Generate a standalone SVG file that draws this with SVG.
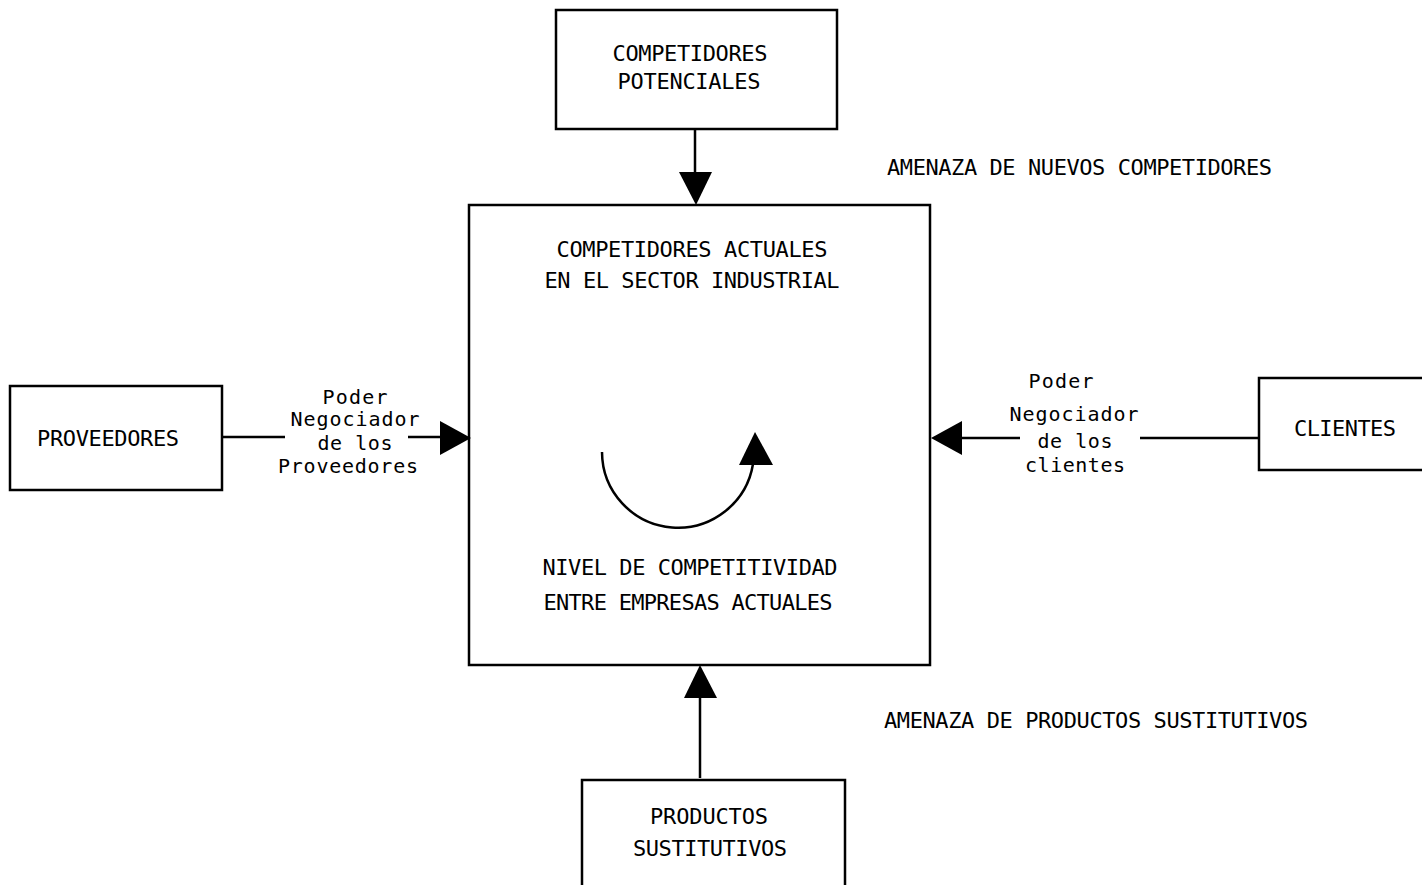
<svg xmlns="http://www.w3.org/2000/svg" width="1422" height="885" viewBox="0 0 1422 885">
<style>
.box{fill:#fff;stroke:#000;stroke-width:2.5}
.ln{fill:none;stroke:#000;stroke-width:2.5}
.hd{fill:#000;stroke:none}
text{font-family:"DejaVu Sans Mono","Liberation Mono",monospace;font-size:22px;fill:#000}
.c{text-anchor:middle}
.s{font-size:20px}
</style>
<rect width="1422" height="885" fill="#fff"/>
<g id="competidores-potenciales">
<rect class="box" x="556" y="10" width="281" height="119"/>
<text x="690" y="61" class="c" textLength="155">COMPETIDORES</text>
<text x="689" y="89" class="c" textLength="143">POTENCIALES</text>
</g>
<g id="amenaza-nuevos">
<text x="887" y="175" textLength="385">AMENAZA DE NUEVOS COMPETIDORES</text>
</g>
<g id="competidores-actuales">
<rect class="box" x="469" y="205" width="461" height="460"/>
<text x="692" y="257" class="c" textLength="271">COMPETIDORES ACTUALES</text>
<text x="692" y="288" class="c" textLength="295">EN EL SECTOR INDUSTRIAL</text>
<text x="690" y="575" class="c" textLength="295">NIVEL DE COMPETITIVIDAD</text>
<text x="688" y="610" class="c" textLength="289">ENTRE EMPRESAS ACTUALES</text>
</g>
<g id="proveedores">
<rect class="box" x="10" y="386" width="212" height="104"/>
<text x="108" y="446" class="c" textLength="142">PROVEEDORES</text>
</g>
<g id="label-proveedores">
<text x="355" y="404" class="c s" textLength="65">Poder</text>
<text x="355" y="426" class="c s" textLength="129">Negociador</text>
<text x="355" y="450" class="c s" textLength="75">de los</text>
<text x="348" y="473" class="c s" textLength="140">Proveedores</text>
</g>
<g id="clientes">
<rect class="box" x="1259" y="378" width="175" height="92"/>
<text x="1345" y="436" class="c" textLength="102">CLIENTES</text>
</g>
<g id="label-clientes">
<text x="1061" y="388" class="c s" textLength="65">Poder</text>
<text x="1074" y="421" class="c s" textLength="129">Negociador</text>
<text x="1075" y="448" class="c s" textLength="75">de los</text>
<text x="1075" y="472" class="c s" textLength="100">clientes</text>
</g>
<g id="amenaza-sustitutos">
<text x="884" y="728" textLength="424">AMENAZA DE PRODUCTOS SUSTITUTIVOS</text>
</g>
<g id="productos-sustitutivos">
<rect class="box" x="582" y="780" width="263" height="115"/>
<text x="709" y="824" class="c" textLength="118">PRODUCTOS</text>
<text x="710" y="856" class="c" textLength="154">SUSTITUTIVOS</text>
</g>
<g id="connectors">
<line class="ln" x1="695" y1="129" x2="695" y2="180"/>
<polygon class="hd" points="679,172 712,172 696,205"/>
<line class="ln" x1="222" y1="437" x2="285" y2="437"/>
<line class="ln" x1="408" y1="437" x2="445" y2="437"/>
<polygon class="hd" points="440,421 440,455 471,438"/>
<line class="ln" x1="1140" y1="438" x2="1259" y2="438"/>
<line class="ln" x1="955" y1="438" x2="1020" y2="438"/>
<polygon class="hd" points="962,421 962,455 931,438"/>
<line class="ln" x1="700" y1="778" x2="700" y2="690"/>
<polygon class="hd" points="684,698 717,698 700,665"/>
<path class="ln" d="M602,452 A76,76 0 0 0 753,464"/>
<polygon class="hd" points="739,465 773,465 755,432"/>
</g>
</svg>
